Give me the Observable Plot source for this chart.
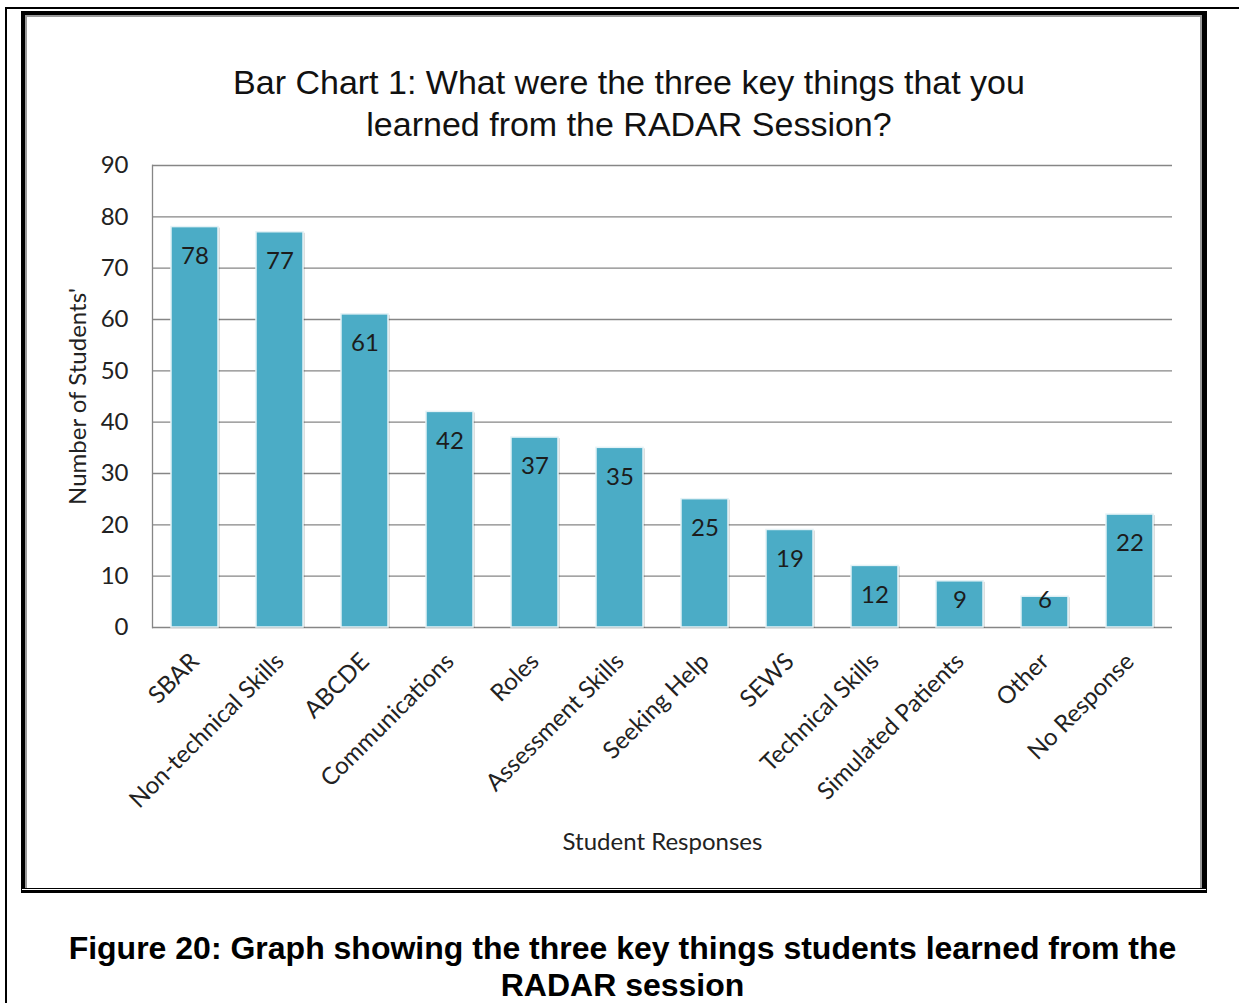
<!DOCTYPE html>
<html><head><meta charset="utf-8">
<script src="https://cdn.jsdelivr.net/npm/d3@7"></script>
<script src="https://cdn.jsdelivr.net/npm/@observablehq/plot@0.6"></script>
<style>
html,body{margin:0;padding:0;background:#fff;}
body{width:1239px;height:1003px;position:relative;overflow:hidden;}
.abs{position:absolute;}
#title{left:0;top:61px;width:1258px;text-align:center;font-family:"Liberation Sans",Arial,sans-serif;font-size:34px;line-height:42px;color:#111;}
#caption{left:0;top:930px;width:1245px;text-align:center;font-family:"Liberation Sans",Arial,sans-serif;font-weight:bold;font-size:32px;line-height:37px;color:#000;}
#chart{left:0;top:0;}
</style></head><body>
<div class="abs" style="left:5px;top:7px;width:1234px;height:2px;background:#000"></div>
<div class="abs" style="left:5px;top:7px;width:2px;height:996px;background:#000"></div>
<div class="abs" style="left:21px;top:11px;width:1186px;height:882px;background:#000"></div>
<div class="abs" style="left:25px;top:15px;width:1177px;height:874px;background:#fff"></div>
<div class="abs" style="left:25px;top:15px;width:1177px;height:873px;background:#fff;box-sizing:border-box;border-left:2px solid #9a9a9a;border-top:2px solid #9a9a9a;border-right:2px solid #9a9a9a"></div>
<div class="abs" style="left:22px;top:888px;width:1184px;height:1px;background:#000"></div>
<div class="abs" style="left:22px;top:889px;width:1184px;height:1px;background:#fff"></div>
<div class="abs" id="title">Bar Chart 1: What were the three key things that you<br>learned from the RADAR Session?</div>
<div class="abs" id="chart"></div>
<div class="abs" id="caption">Figure 20: Graph showing the three key things students learned from the<br>RADAR session</div>
<script>
const categories = ["SBAR","Non-technical Skills","ABCDE","Communications","Roles","Assessment Skills","Seeking Help","SEWS","Technical Skills","Simulated Patients","Other","No Response"];
const values = [78,77,61,42,37,35,25,19,12,9,6,22];
const yTicks = [0,10,20,30,40,50,60,70,80,90];
const yLabel = "Number of Students'";
const xLabel = "Student Responses";

const data = categories.map((c,i)=>({category:c, value:values[i]}));

const chart = Plot.plot({
  width: 1239,
  height: 880,
  marginLeft: 152,
  marginRight: 67,
  marginTop: 165,
  marginBottom: 253,
  style: {fontFamily: "Lato, 'Noto Sans', sans-serif", fontSize: "24px", color: "#222", background: "transparent", overflow: "visible"},
  x: {domain: categories, paddingInner: 0.45, paddingOuter: 0.225, label: null},
  y: {domain: [0,90], label: null},
  marks: [
    Plot.gridY(yTicks, {stroke: "#868686", strokeOpacity: 1, strokeWidth: 1.3}),
    Plot.frame({anchor: "left", stroke: "#868686", strokeWidth: 1.3}),
    Plot.barY(data, {x: "category", y: "value", fill: "#000", fillOpacity: 0.13, dx: 2, dy: 1}),
    Plot.barY(data, {x: "category", y: "value", fill: "#4bacc6", stroke: "#e4f2f6", strokeWidth: 1.5}),
    Plot.text(data, {x: "category", y: d => Math.max(d.value, 11), text: d => String(d.value), dy: 29, fontSize: 24, fill: "#1c1c1c"}),
    Plot.axisY(yTicks, {tickSize: 0, tickPadding: 24, fontSize: 24, label: yLabel, labelAnchor: "center", labelOffset: 84, labelArrow: "none"}),
    Plot.axisX({tickSize: 0, tickPadding: 30, tickRotate: -45, fontSize: 24, label: xLabel, labelAnchor: "center", labelOffset: 222, labelArrow: "none"})
  ]
});
document.getElementById("chart").appendChild(chart);
</script>
</body></html>
